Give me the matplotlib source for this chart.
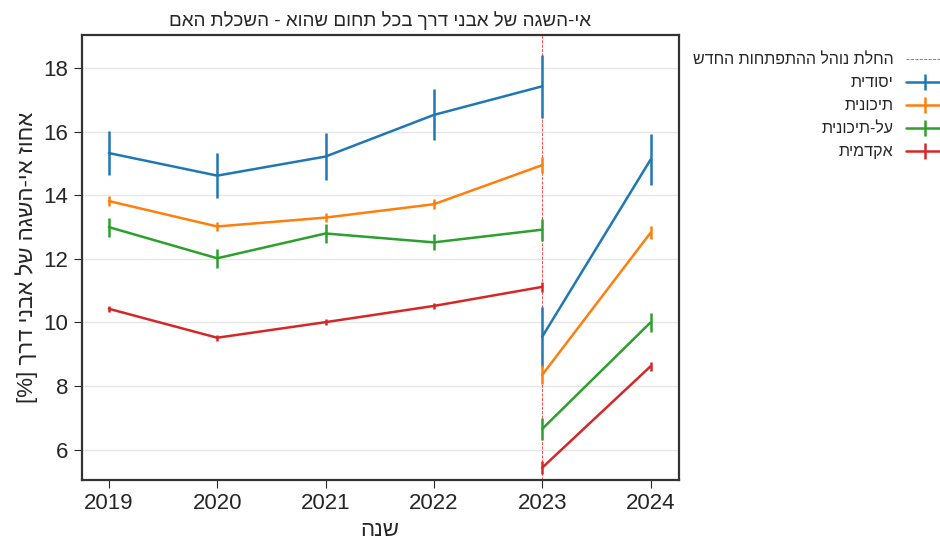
import matplotlib
matplotlib.use("Agg")
import matplotlib.pyplot as plt
import seaborn as sns

sns.set_style("ticks")
plt.rcParams['font.family'] = ['Liberation Sans', 'DejaVu Sans']


def heb(s):
    # matplotlib has no bidi support, so reverse the Hebrew strings
    return s[::-1]


years_before = [2019, 2020, 2021, 2022, 2023]
years_after = [2023, 2024]

series_names = ["יסודית", "תיכונית", "על-תיכונית", "אקדמית"]
colors = ["#1f77b4", "#ff7f0e", "#2ca02c", "#d62728"]

values_before = [
    [15.33, 14.62, 15.22, 16.53, 17.43],
    [13.82, 13.02, 13.30, 13.72, 14.95],
    [13.00, 12.02, 12.80, 12.52, 12.92],
    [10.43, 9.52, 10.01, 10.52, 11.12],
]
errors_before = [
    [0.7, 0.7, 0.75, 0.8, 1.0],
    [0.15, 0.15, 0.15, 0.15, 0.25],
    [0.3, 0.3, 0.3, 0.25, 0.35],
    [0.1, 0.1, 0.1, 0.1, 0.15],
]
values_after = [
    [9.55, 15.12],
    [8.35, 12.82],
    [6.65, 10.0],
    [5.43, 8.62],
]
errors_after = [
    [0.95, 0.8],
    [0.3, 0.2],
    [0.35, 0.3],
    [0.2, 0.15],
]

fig, ax = plt.subplots(figsize=(9.4, 5.44), dpi=100)
fig.subplots_adjust(left=0.087, right=0.722, top=0.936, bottom=0.118)

ax.axvline(2023, color="red", ls="--", lw=0.6, alpha=0.8, zorder=1.5,
           label=heb("החלת נוהל ההתפתחות החדש"))

for i, name in enumerate(series_names):
    ax.errorbar(years_before, values_before[i], yerr=errors_before[i],
                color=colors[i], lw=1.8, elinewidth=1.8, capsize=0,
                label=heb(name))
    ax.errorbar(years_after, values_after[i], yerr=errors_after[i],
                color=colors[i], lw=1.8, elinewidth=1.8, capsize=0)

ax.set_xlim(2018.75, 2024.26)
ax.set_ylim(5.05, 19.05)
ax.set_xticks([2019, 2020, 2021, 2022, 2023, 2024])
ax.set_yticks([6, 8, 10, 12, 14, 16, 18])
ax.yaxis.grid(True, color="#e6e6e6", lw=1)
ax.tick_params(labelsize=16, length=6)
for sp in ax.spines.values():
    sp.set_linewidth(1.6)
    sp.set_color("#333333")

ax.set_title(heb("אי-השגה של אבני דרך בכל תחום שהוא - השכלת האם"), fontsize=13.5)
ax.set_xlabel(heb("שנה"), fontsize=16)
ax.set_ylabel("[%] " + heb("אחוז אי-השגה של אבני דרך"), fontsize=16)

ax.legend(loc="upper left", bbox_to_anchor=(1.0, 0.993), frameon=False,
          markerfirst=False, fontsize=11.5, handlelength=2.3)

plt.savefig("out.png", dpi=100)
